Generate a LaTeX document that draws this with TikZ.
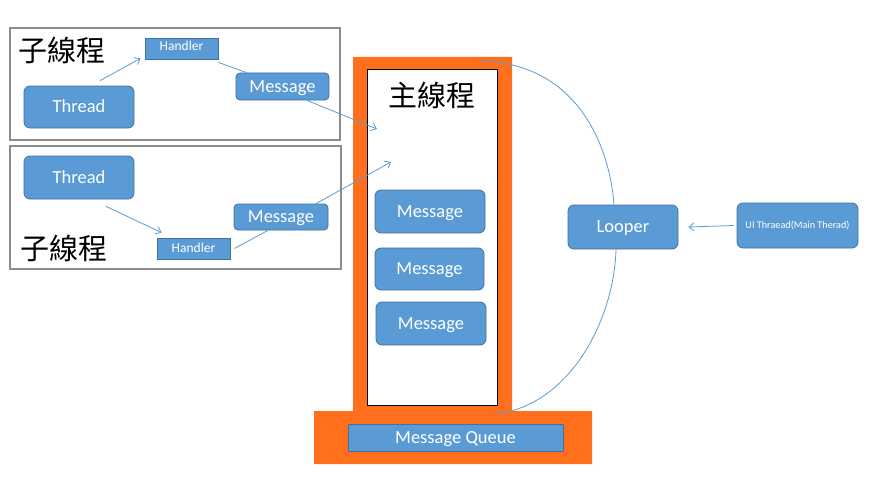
\documentclass[tikz,border=0pt]{standalone}
\usepackage{fontspec}
\setmainfont{Carlito}
\newfontfamily\cjk{Noto Sans CJK TC}
\usetikzlibrary{arrows.meta}
\definecolor{bfill}{HTML}{5B9BD5}
\definecolor{bline}{HTML}{41719C}
\definecolor{orng}{HTML}{FF6F1E}
\definecolor{gbox}{HTML}{8C8C8C}
\tikzset{
  bx/.style={draw=bline, fill=bfill, line width=0.8pt, text=white, inner sep=0pt, font=\fontsize{18.5}{20}\selectfont, text height=11.9pt, text depth=0pt},
  rbx/.style={bx, rounded corners=6pt},
  smallbx/.style={font=\fontsize{13.5}{15}\selectfont, text height=8.7pt},
  conn/.style={draw=bfill, line width=0.8pt},
  arr/.style={conn, -{Straight Barb[length=5pt,width=8pt]}},
  cjkt/.style={font=\cjk\fontsize{29}{32}\selectfont, inner sep=0pt}
}
\begin{document}
\begin{tikzpicture}[x=1pt,y=-1pt]
\useasboundingbox (0,0) rectangle (894,503);
\fill[white] (0,0) rectangle (894,503);
% thread boxes
\node[draw=gbox, line width=1.2pt, minimum width=330pt, minimum height=112pt, inner sep=0pt] (sub1) at (175,84) {};
\node[draw=gbox, line width=1.2pt, minimum width=331pt, minimum height=123pt, inner sep=0pt] (sub2) at (175.5,207.5) {};
\node[cjkt, anchor=west] (t1) at (18,50) {子線程};
\node[cjkt, anchor=west] (t2) at (20,248) {子線程};
% orange main
\fill[orng] (353,57) -- (512,57) -- (512,411) -- (592,411) -- (592,464) -- (314,464) -- (314,411) -- (353,411) -- cycle;
\node[draw=black, fill=white, line width=0.8pt, minimum width=130pt, minimum height=336pt, inner sep=0pt] (mainbox) at (432,237) {};
\node[cjkt] (t3) at (431.5,95) {主線程};
% nodes
\node[rbx, minimum width=110pt, minimum height=42pt] (thr1) at (79,107) {Thread};
\node[bx, smallbx, minimum width=73pt, minimum height=21pt] (h1) at (181.5,48.5) {\raisebox{2.5pt}{Handler}};
\node[rbx, rounded corners=4pt, minimum width=93pt, minimum height=27pt] (m1) at (282.5,86.5) {Message};
\node[rbx, minimum width=110pt, minimum height=43pt] (thr2) at (79,177.5) {Thread};
\node[bx, smallbx, minimum width=73pt, minimum height=21pt] (h2) at (193.5,248.5) {Handler};
\node[rbx, rounded corners=4pt, minimum width=94pt, minimum height=26pt] (m2) at (281,217) {Message};
\node[rbx, minimum width=110pt, minimum height=43pt] (mm1) at (430,211.5) {Message};
\node[rbx, minimum width=109pt, minimum height=42pt] (mm2) at (429.5,269) {Message};
\node[rbx, minimum width=110pt, minimum height=43pt] (mm3) at (431,323.5) {Message};
\node[bx, minimum width=215pt, minimum height=27pt] (mq) at (455.5,437.5) {Message Queue};
\node[rbx, minimum width=110pt, minimum height=44pt] (looper) at (623,227) {Looper};
\node[rbx, minimum width=121pt, minimum height=45pt, font=\fontsize{10.2}{12}\selectfont, text height=6.5pt] (ui) at (797.5,225.5) {UI Thraead(Main Therad)};
% coordinates
\coordinate (in1) at (377,129);
\coordinate (in2) at (391,162);
\coordinate (arcA) at (480,61);
\coordinate (arcB) at (496,414);
% connectors
\draw[arr] ([xshift=21pt,yshift=5pt]thr1.north) -- ([xshift=-4pt,yshift=1pt]h1.south west);
\draw[conn] ([yshift=-3pt]h1.south east) -- ([xshift=11pt]m1.north west);
\draw[arr] ([xshift=24.5pt]m1.south) -- (in1);
\draw[arr] ([xshift=27pt,yshift=-7pt]thr2.south) -- ([xshift=5pt,yshift=5pt]h2.north west);
\draw[conn] ([xshift=4pt]h2.east) -- ([xshift=-13pt]m2.south);
\draw[arr] ([xshift=35pt]m2.north) -- (in2);
\draw[conn] (arcA) .. controls (580,63) and (610,150) .. ([xshift=-9pt]looper.north);
\draw[conn] ([xshift=-7pt]looper.south) .. controls (614,320) and (570,405) .. (arcB);
\draw[arr] ([xshift=-3pt]ui.west) -- ([xshift=10pt]looper.east);
\end{tikzpicture}
\end{document}
